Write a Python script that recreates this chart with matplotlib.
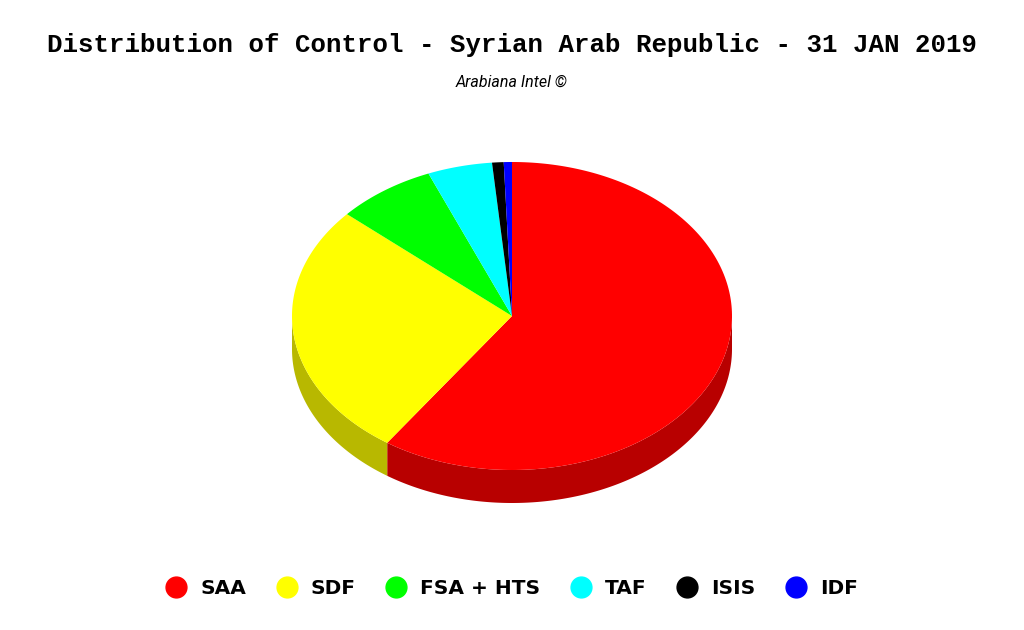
import numpy as np
import matplotlib.pyplot as plt
from matplotlib.patches import Polygon
from matplotlib.lines import Line2D
from matplotlib.colors import to_rgb

# data
labels = ['SAA', 'SDF', 'FSA + HTS', 'TAF', 'ISIS', 'IDF']
shares = [59.6, 26.9, 7.3, 4.75, 0.85, 0.6]
colors = ['#FF0000', '#FFFF00', '#00FF00', '#00FFFF', '#000000', '#0000FF']

title = 'Distribution of Control - Syrian Arab Republic - 31 JAN 2019'
subtitle = 'Arabiana Intel \u00a9'

# pie geometry (pixel coords of the figure)
cx, cy = 512, 316
rx, ry = 220, 154
depth = 33

fig = plt.figure(figsize=(10.24, 6.3), dpi=100)
ax = fig.add_axes([0, 0, 1, 1])
ax.set_xlim(0, 1024)
ax.set_ylim(630, 0)
ax.axis('off')


def rim(t0, t1, n=200):
    t = np.radians(np.linspace(t0, t1, n))
    return cx + rx * np.cos(t), cy - ry * np.sin(t)


def darker(c, f=0.72):
    r, g, b = to_rgb(c)
    return (r * f, g * f, b * f)


fracs = np.array(shares) / np.sum(shares)
cum = np.concatenate([[0], np.cumsum(fracs)])
starts = 90 - cum[:-1] * 360
ends = 90 - cum[1:] * 360

# side walls (front half only)
for s, e, c in zip(starts, ends, colors):
    a0, a1 = max(e, -180), min(s, 0)
    if a1 <= a0:
        continue
    x, y = rim(a1, a0)
    pts = np.column_stack([np.concatenate([x, x[::-1]]),
                           np.concatenate([y, y[::-1] + depth])])
    ax.add_patch(Polygon(pts, closed=True, facecolor=darker(c), edgecolor='none'))

# top surface
for s, e, c in zip(starts, ends, colors):
    x, y = rim(s, e)
    pts = np.column_stack([np.concatenate([[cx], x]), np.concatenate([[cy], y])])
    ax.add_patch(Polygon(pts, closed=True, facecolor=c, edgecolor='none'))

ax.text(512, 45, title, ha='center', va='center', fontsize=18.5,
        family='Liberation Mono', fontweight='bold')
ax.text(512, 82, subtitle, ha='center', va='center', fontsize=11.5,
        family='Roboto', style='italic')

handles = [Line2D([], [], marker='o', linestyle='none', markersize=15,
                  markerfacecolor=c, markeredgecolor=c) for c in colors]
fig.legend(handles, labels, loc='center', bbox_to_anchor=(0.5, 1 - 589 / 630),
           ncol=6, frameon=False, handlelength=1.0, handletextpad=0.7,
           columnspacing=1.5, prop={'family': 'DejaVu Sans', 'weight': 'bold', 'size': 14.5})

fig.savefig('out.png', dpi=100)
